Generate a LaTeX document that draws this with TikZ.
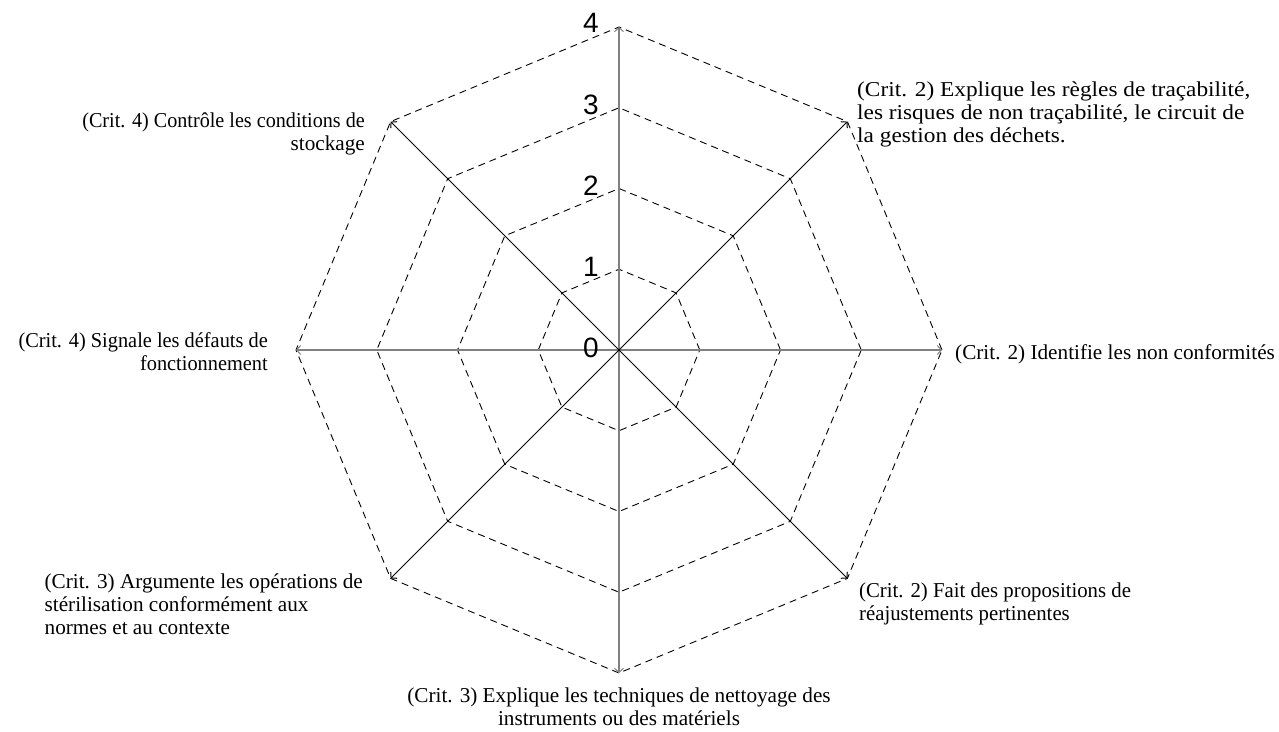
\documentclass[tikz,border=0pt]{standalone}
\usepackage{fontspec}
\setmainfont{Liberation Serif}
\newfontfamily\numfont{Liberation Sans}
\usetikzlibrary{arrows.meta}
\newcommand{\wide}[1]{\addfontfeatures{FakeStretch=#1}}
\begin{document}
\begin{tikzpicture}[x=1pt,y=-1pt,
  lbl/.style={inner sep=0pt, font=\fontsize{21.2}{23}\selectfont},
  num/.style={inner sep=0pt, font=\numfont\fontsize{28}{30}\selectfont, anchor=base east},
  web/.style={draw=black, line width=0.9pt, dash pattern=on 7pt off 5pt},
  tipa/.style={-{Straight Barb[length=4pt,width=9pt,line width=1pt]}},
  axmain/.style={draw=black!50, line width=1.8pt, tipa},
  axdiag/.style={draw=black, line width=1pt, tipa}
]
\useasboundingbox (0,0) rectangle (1279,731);
\coordinate (O) at (619,350);
\foreach \i in {0,...,7}{
  \coordinate (e\i) at ({619+323*cos(45*\i)},{350-323*sin(45*\i)});
}
% web
\foreach \l in {1,...,4}{
  \draw[web] ({619+80.75*\l},350)
    \foreach \i in {1,...,7}{ -- ({619+80.75*\l*cos(45*\i)},{350-80.75*\l*sin(45*\i)}) } -- cycle;
}
% axes
\foreach \i in {0,2,4,6}{ \draw[axmain] (O) -- (e\i); }
\foreach \i in {1,3,5,7}{ \draw[axdiag] (O) -- (e\i); }
% scale numbers
\node[num] (n0) at (599,357) {0};
\node[num] (n1) at (599,276) {1};
\node[num] (n2) at (599,195) {2};
\node[num] (n3) at (599,114) {3};
\node[num] (n4) at (599,32) {4};
% labels (base anchor = baseline of last line)
\node[lbl, anchor=base west] (l0) at (955,359) {(Crit. 2) Identifie les non conformités};
\node[lbl, align=left, anchor=base west, font=\fontsize{21.2}{23}\selectfont\wide{1.1}] (l1) at (857,142) {(Crit. 2) Explique les règles de traçabilité,\\les risques de non traçabilité, le circuit de\\la gestion des déchets.};
\node[lbl, align=right, anchor=base east] (l3) at (365,150) {{\wide{0.95}(Crit. 4) Contrôle les conditions de}\\stockage};
\node[lbl, align=right, anchor=base east, font=\fontsize{21.2}{23}\selectfont\wide{0.96}] (l4) at (268,370) {(Crit. 4) Signale les défauts de\\fonctionnement};
\node[lbl, align=left, anchor=base east] (l5) at (363,634) {(Crit. 3) Argumente les opérations de\\stérilisation conformément aux\\normes et au contexte};
\node[lbl, align=center, anchor=base] (l6) at (619,725) {(Crit. 3) Explique les techniques de nettoyage des\\instruments ou des matériels};
\node[lbl, align=left, anchor=base west, font=\fontsize{21.2}{23}\selectfont\wide{0.98}] (l7) at (859,620) {(Crit. 2) Fait des propositions de\\réajustements pertinentes};
\end{tikzpicture}
\end{document}
